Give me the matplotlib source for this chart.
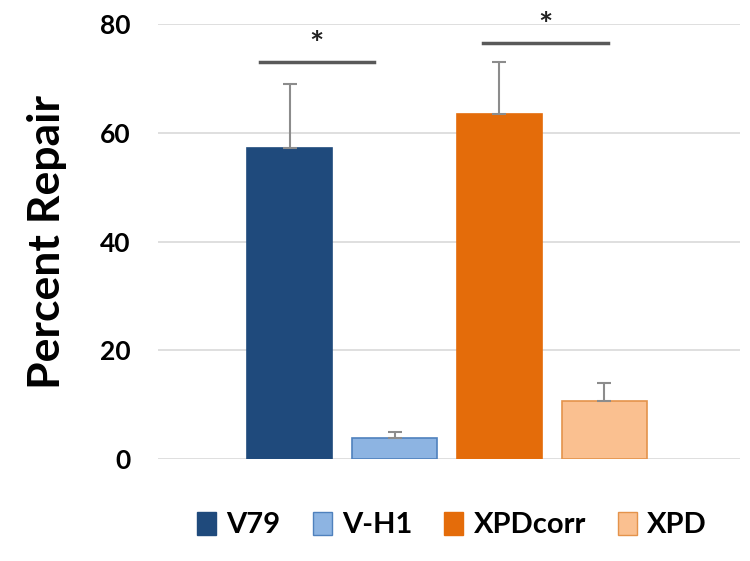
import matplotlib.pyplot as plt
from matplotlib.patches import Patch

plt.rcParams['font.family'] = ['Lato', 'DejaVu Sans']
plt.rcParams['font.weight'] = 'bold'

# data
groups = ['V79', 'V-H1', 'XPDcorr', 'XPD']
repair = [57.2, 3.9, 63.4, 10.7]
err = [11.7, 1.1, 9.7, 3.3]
fills = ['#1F4A7C', '#8DB4E2', '#E46C0A', '#FAC090']
edges = ['#1F4A7C', '#4F81BD', '#E46C0A', '#E4934B']
# significance brackets: (left bar, right bar, height)
sig_pairs = [(0, 1, 73.1), (2, 3, 76.6)]

fig = plt.figure(figsize=(7.5, 5.61), dpi=100)
ax = fig.add_axes([0.211, 0.182, 0.776, 0.775])

x = list(range(len(groups)))
ax.bar(x, repair, width=0.81, color=fills, edgecolor=edges, linewidth=1.2, zorder=2)
ax.errorbar(x, repair, yerr=[[0] * 4, err], fmt='none', ecolor='#8C8C8C',
            elinewidth=1.5, capsize=5, capthick=1.5, zorder=3)

# significance lines and stars
for a, b, h in sig_pairs:
    x0 = a - 0.29 + 0.13 * (a > 0)
    x1 = b - 0.2 + 0.24 * (a > 0)
    ax.plot([x0, x1], [h, h], color='#595959', lw=2.5, clip_on=False, zorder=4)
    ax.text((x0 + x1) / 2, h + 0.3, '*', ha='center', va='bottom',
            fontsize=24, color='#222222', clip_on=False)

ax.set_xlim(-1.257, 4.3)
ax.set_ylim(0, 80)
ax.set_yticks([0, 20, 40, 60, 80])
ax.set_xticks([])
ax.tick_params(axis='y', length=0, labelsize=19, pad=20)
for t in ax.get_yticklabels():
    t.set_fontweight('bold')
ax.grid(axis='y', color='#D9D9D9', lw=1.2, zorder=0)
ax.set_axisbelow(True)
for s in ax.spines.values():
    s.set_visible(False)

ax.set_ylabel('Percent Repair', fontsize=32, fontweight='bold', labelpad=24)

handles = [Patch(facecolor=f, edgecolor=e, label=g) for g, f, e in zip(groups, fills, edges)]
fig.legend(handles=handles, loc='center', bbox_to_anchor=(0.603, 0.064), ncol=4,
           frameon=False, handlelength=0.65, handleheight=0.85,
           handletextpad=0.35, columnspacing=1.1, prop={'weight': 'bold', 'size': 21})

fig.savefig('out.png', dpi=100)
